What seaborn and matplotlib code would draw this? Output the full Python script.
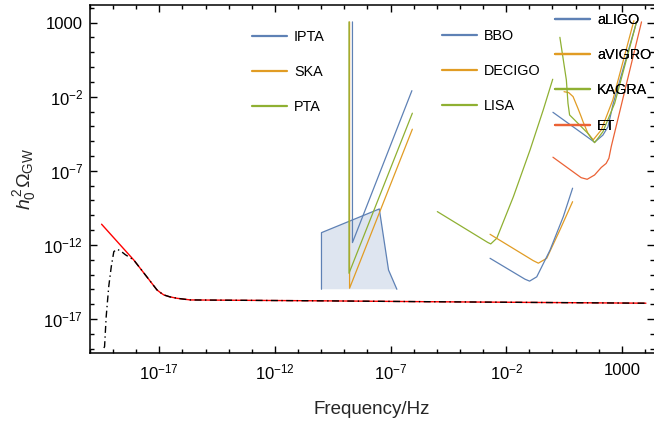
import numpy as np
import pandas as pd
import matplotlib
matplotlib.use("Agg")
import matplotlib.pyplot as plt
import seaborn as sns
from matplotlib.lines import Line2D
from matplotlib.ticker import FixedLocator, FuncFormatter, NullFormatter

BLUE = "#5e81b5"
ORANGE = "#e19c24"
GREEN = "#8fb032"
VERMILION = "#eb6235"

# All values are log10(frequency / Hz) and log10(h0^2 Omega_GW)

# relic spectrum (solid red)
spec_logf = [-19.50, -18.11, -17.10, -16.95, -16.81, -16.55, -16.23, -15.66,
             -14.79, -10.00, -5.29, 4.04]
spec_logo = [-10.60, -13.01, -15.04, -15.22, -15.37, -15.50, -15.60, -15.71,
             -15.72, -15.77, -15.83, -15.93]

# spectrum with low-frequency cutoff (black dash-dot)
cut_logf = [-19.40, -19.37, -19.30, -19.19, -19.08, -18.97, -18.83, -18.68,
            -18.47, -18.11, -17.10, -16.95, -16.81, -16.55, -16.23, -15.66,
            -14.79, -10.00, -5.29, 4.04]
cut_logo = [-18.95, -18.86, -16.84, -14.81, -13.46, -12.45, -12.29, -12.40,
            -12.66, -13.01, -15.04, -15.22, -15.37, -15.50, -15.60, -15.71,
            -15.72, -15.77, -15.83, -15.93]

# pulsar timing arrays
ipta_logf = [-8.65, -8.65, -6.08]
ipta_logo = [3.05, -11.84, -1.59]
ska_logf = [-8.775, -8.775, -6.06]
ska_logo = [3.05, -14.92, -4.19]
pta_logf = [-8.80, -8.80, -6.06]
pta_logo = [3.05, -13.91, -3.11]

# shaded constraint region
region_logf = [-9.99, -9.99, -7.49, -7.09, -6.73]
region_logo = [-14.99, -11.17, -9.57, -13.69, -14.99]

# space-based interferometers
bbo_logf = [-2.70, -1.19, -0.99, -0.68, -0.11, 0.47, 0.87]
bbo_logo = [-12.90, -14.31, -14.44, -14.15, -12.36, -10.08, -8.17]
decigo_logf = [-2.70, -0.83, -0.61, -0.25, 0.32, 0.87]
decigo_logo = [-11.28, -13.06, -13.23, -12.90, -10.99, -9.08]
lisa_logf = [-4.98, -2.80, -2.67, -2.41, -1.69, -0.97, -0.40, 0.01]
lisa_logo = [-9.75, -11.83, -11.93, -11.55, -8.74, -5.59, -2.89, -0.82]

# ground-based interferometers
aligo_logf = [0.02, 1.75, 1.82, 2.18, 2.40, 2.62, 3.64]
aligo_logo = [-3.05, -4.99, -5.07, -4.59, -4.03, -2.50, 3.07]
avirgo_logf = [0.50, 0.70, 0.89, 1.10, 1.24, 1.32, 1.53, 1.76, 2.11, 2.61, 3.52]
avirgo_logo = [-1.66, -1.72, -1.99, -2.78, -3.34, -3.68, -4.46, -4.91, -4.24,
               -2.21, 3.13]
kagra_logf = [0.32, 0.60, 0.67, 0.74, 0.96, 1.53, 1.82, 2.18, 2.69, 3.64]
kagra_logo = [2.01, -0.87, -2.44, -3.23, -3.57, -4.47, -5.10, -4.36, -2.44, 3.07]
et_logf = [0.02, 1.24, 1.50, 1.82, 2.11, 2.32, 2.44, 2.54, 3.85]
et_logo = [-6.08, -7.46, -7.57, -7.28, -6.77, -6.50, -6.15, -5.37, 3.05]

legend_groups = [
    (["IPTA", "SKA", "PTA"], [BLUE, ORANGE, GREEN], 252, 30),
    (["BBO", "DECIGO", "LISA"], [BLUE, ORANGE, GREEN], 442, 29),
    (["aLIGO", "aVIGRO", "KAGRA", "ET"], [BLUE, ORANGE, GREEN, VERMILION], 555, 13),
]

x_major = [-17, -12, -7, -2, 3]
y_major = [-17, -12, -7, -2, 3]

sns.set_theme(style="ticks")
plt.rcParams.update({
    "font.family": ["Liberation Sans", "DejaVu Sans"],
    "mathtext.fontset": "custom",
    "mathtext.rm": "Liberation Sans",
    "mathtext.it": "Liberation Sans:italic",
    "mathtext.bf": "Liberation Sans:bold",
    "axes.edgecolor": "black",
    "axes.linewidth": 1.1,
    "xtick.color": "black",
    "ytick.color": "black",
    "text.color": "black",
})

W, H = 654, 423
fig = plt.figure(figsize=(W / 100, H / 100), dpi=100)
ax = fig.add_axes([90 / W, (H - 353) / H, 564 / W, 348 / H])
ax.set_xscale("log")
ax.set_yscale("log")


def to_frame(logf, logo):
    return pd.DataFrame({"f": np.power(10.0, logf), "o": np.power(10.0, logo)})


def curve(logf, logo, color, lw=0.9, **kw):
    sns.lineplot(data=to_frame(logf, logo), x="f", y="o", ax=ax, color=color,
                 lw=lw, estimator=None, sort=False, legend=False, **kw)


# shaded region with outline on three sides
reg = to_frame(region_logf, region_logo)
ax.fill(reg["f"], reg["o"], color=BLUE, alpha=0.2, lw=0, zorder=1)
curve(region_logf, region_logo, BLUE)

curve(ska_logf, ska_logo, ORANGE)
curve(pta_logf, pta_logo, GREEN)
curve(ipta_logf, ipta_logo, BLUE)

curve(lisa_logf, lisa_logo, GREEN)
curve(decigo_logf, decigo_logo, ORANGE)
curve(bbo_logf, bbo_logo, BLUE)

curve(et_logf, et_logo, VERMILION)
curve(aligo_logf, aligo_logo, BLUE)
curve(avirgo_logf, avirgo_logo, ORANGE)
curve(kagra_logf, kagra_logo, GREEN)

curve(spec_logf, spec_logo, "red", lw=1.0)
curve(cut_logf, cut_logo, "black", lw=1.0, linestyle=(0, (5, 2.5, 1, 2.5)))

ax.set_xlim(10 ** -20.0, 10 ** 4.39)
ax.set_ylim(10 ** -19.29, 10 ** 4.19)


def fmt(v, pos):
    e = int(round(np.log10(v)))
    return "1000" if e == 3 else rf"$10^{{{e}}}$"


for axis, majors, lo, hi in ((ax.xaxis, x_major, -20, 4), (ax.yaxis, y_major, -19, 4)):
    axis.set_major_locator(FixedLocator([10.0 ** e for e in majors]))
    axis.set_minor_locator(FixedLocator([10.0 ** e for e in range(lo, hi + 1)
                                         if e not in majors]))
    axis.set_major_formatter(FuncFormatter(fmt))
    axis.set_minor_formatter(NullFormatter())

ax.tick_params(which="both", direction="in", top=True, right=True,
               labelsize=12, width=1.0)
ax.tick_params(which="major", length=5)
ax.tick_params(axis="x", which="major", pad=7)
ax.tick_params(axis="y", which="major", pad=5)
ax.tick_params(which="minor", length=3)
ax.spines["right"].set_visible(False)

ax.set_xlabel("Frequency/Hz", fontsize=13.5, labelpad=13)
ax.set_ylabel(r"$h_0^{\,2}\Omega_{\mathrm{GW}}$", fontsize=14, labelpad=4)

for labels, colors, x0, y0 in legend_groups:
    handles = [Line2D([], [], color=c, lw=1.6) for c in colors]
    leg = ax.legend(handles, labels, loc="upper left",
                    bbox_to_anchor=(x0 / W, 1 - y0 / H),
                    bbox_transform=fig.transFigure, frameon=False,
                    borderpad=0, borderaxespad=0, handlelength=2.45,
                    handletextpad=0.45, labelspacing=1.47, fontsize=10.4)
    ax.add_artist(leg)

fig.savefig("out.png", dpi=100)
